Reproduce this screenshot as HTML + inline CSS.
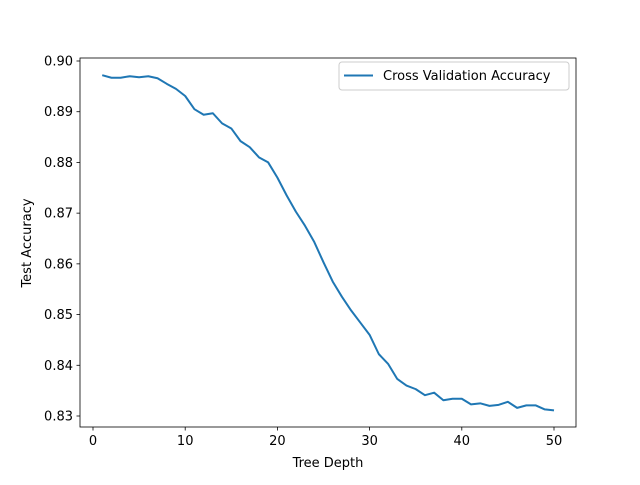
<!DOCTYPE html>
<html><head><meta charset="utf-8"><style>
body{margin:0;background:#fff;font-family:"Liberation Sans","DejaVu Sans",sans-serif}
text{font-family:"DejaVu Sans","Liberation Sans",sans-serif;font-size:13px;fill:#000}
</style></head><body>
<svg id="c" width="640" height="480" xmlns="http://www.w3.org/2000/svg"></svg>
<script>
const depths=[];for(let i=1;i<=50;i++)depths.push(i);
const accuracy=[.8972,.8967,.8967,.8970,.8968,.8970,.8966,.8955,.8945,.8931,.8905,.8894,.8897,.8877,.8867,.8842,.8830,.8810,.8800,.8770,.8735,.8703,.8675,.8643,.8603,.8565,.8535,.8508,.8484,.8460,.8422,.8403,.8373,.8360,.8353,.8341,.8346,.8331,.8334,.8334,.8323,.8325,.8320,.8322,.8328,.8316,.8321,.8321,.8313,.8311];
const xTicks=[0,10,20,30,40,50];
const yTicks=[0.83,0.84,0.85,0.86,0.87,0.88,0.89,0.90];
const yLabels=["0.83","0.84","0.85","0.86","0.87","0.88","0.89","0.90"];
const L=80,R=576,T=58,B=427;
const X=v=>93+(v-0)*(554-93)/50;
const Y=v=>416-(v-0.83)*(416-61)/0.07;
const s=document.getElementById('c');const NS="http://www.w3.org/2000/svg";
function mk(t,a,txt){const e=document.createElementNS(NS,t);for(const k in a)e.setAttribute(k,a[k]);if(txt!=null)e.textContent=txt;s.appendChild(e);return e;}
let d=depths.map((x,i)=>(i?'L':'M')+X(x)+' '+Y(accuracy[i])).join(' ');
let line=mk('path',{d:d,fill:'none',stroke:'#1f77b4','stroke-width':2,'stroke-linejoin':'round'});


xTicks.forEach(v=>{const t=mk('line',{x1:X(v),x2:X(v),y1:B,y2:B+3.5,stroke:'#000','stroke-width':0.8});

const l=mk('text',{x:X(v),y:B+18,'text-anchor':'middle'},String(v));
});
yTicks.forEach((v,i)=>{const t=mk('line',{x1:L-3.5,x2:L,y1:Y(v),y2:Y(v),stroke:'#000','stroke-width':0.8});

const l=mk('text',{x:L-7,y:Y(v)+4.5,'text-anchor':'end'},yLabels[i]);
});
const fr=mk('rect',{x:L,y:T,width:R-L,height:B-T,fill:'none',stroke:'#000','stroke-width':0.8});

const xt=mk('text',{x:328,y:467,'text-anchor':'middle'},'Tree Depth');

const yt=mk('text',{x:31,y:243,'text-anchor':'middle',transform:'rotate(-90 31 243)'},'Test Accuracy');

const lg=mk('rect',{x:339,y:62,width:230,height:28,rx:3,fill:'#fff',stroke:'#ccc','stroke-width':1});

const ll=mk('line',{x1:344,x2:373,y1:75.5,y2:75.5,stroke:'#1f77b4','stroke-width':2});

const lt=mk('text',{x:383,y:80},'Cross Validation Accuracy');

</script>
</body></html>
